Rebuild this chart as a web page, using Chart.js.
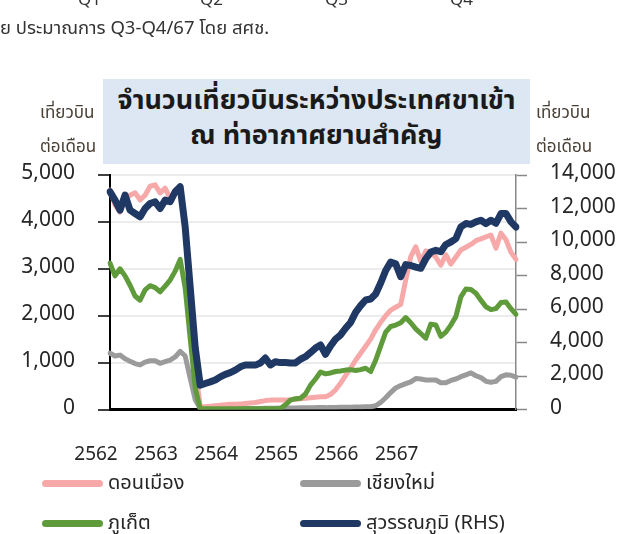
<!DOCTYPE html>
<html>
<head>
<meta charset="utf-8">
<script src="https://cdn.jsdelivr.net/npm/chart.js@4.4.1/dist/chart.umd.min.js"></script>
<style>
  body { margin: 0; background: #fff; font-family: Tahoma, 'Noto Sans Thai', 'Noto Sans', sans-serif; color: #262626; }
  #wrap { position: relative; width: 641px; height: 534px; overflow: hidden; }
  #chart { position: absolute; left: 0; top: 0; }
  .abs { position: absolute; white-space: nowrap; }
  #titleBox { left: 103px; top: 79px; width: 427px; height: 85px; background: #dce7f3; text-align: center;
    font-weight: bold; font-size: 27px; line-height: 35px; padding-top: 4px; box-sizing: border-box; color: #1a1a1a; }
  .ytitle { font-size: 17px; line-height: 34px; color: #4a4036; text-align: left; }
  .q { top: -13px; font-size: 17px; color: #333; }
  #note { left: 0; top: 14px; font-size: 18.5px; color: #333; }
  #legend .item { position: absolute; height: 30px; font-size: 20px; line-height: 30px; white-space: nowrap; }
  #legend .swatch { position: absolute; left: 0; top: 12px; width: 61px; height: 7px; border-radius: 4px; }
  #legend .lbl { position: absolute; left: 66px; top: 0; white-space: nowrap; }
</style>
</head>
<body>
<div id="wrap">
  <canvas id="chart" width="641" height="534"></canvas>
  <div class="abs q" style="left:78px">Q1</div>
  <div class="abs q" style="left:200px">Q2</div>
  <div class="abs q" style="left:325px">Q3</div>
  <div class="abs q" style="left:450px">Q4</div>
  <div class="abs" id="note">ย ประมาณการ Q3-Q4/67 โดย สศช.</div>
  <div class="abs" id="titleBox">จำนวนเที่ยวบินระหว่างประเทศขาเข้า<br>ณ ท่าอากาศยานสำคัญ</div>
  <div class="abs ytitle" style="left:40px; top:96px">เที่ยวบิน<br>ต่อเดือน</div>
  <div class="abs ytitle" style="left:536px; top:96px">เที่ยวบิน<br>ต่อเดือน</div>
  <div id="legend"></div>
</div>
<script>
// ปี (พ.ศ.) ที่แสดงบนแกน X
const years = ['2562', '2563', '2564', '2565', '2566', '2567'];
const monthCount = 82; // ม.ค. 2562 - ต.ค. 2567

// เที่ยวบินต่อเดือน (แกนซ้าย)
const donMueang = [4680,4360,4210,4470,4570,4620,4470,4570,4760,4790,
  4620,4720,4500,4620,4740,3900,2400,900,60,60,
  70,80,90,100,110,110,120,130,140,150,
  170,190,200,200,200,200,210,220,230,240,
  250,260,270,270,320,420,560,720,880,1050,
  1200,1350,1500,1700,1860,2000,2120,2180,2240,2760,
  3260,3470,3150,3380,3350,3250,3080,3300,3100,3250,
  3400,3460,3520,3600,3640,3680,3720,3440,3760,3620,
  3350,3200];
const chiangMai = [1200,1140,1160,1080,1030,980,950,1010,1040,1040,
  985,1020,1055,1120,1240,1140,670,210,20,20,
  20,20,20,20,20,20,20,20,20,20,
  20,25,25,25,30,30,30,30,35,35,
  35,40,40,40,45,45,50,50,50,55,
  55,60,60,80,150,250,360,460,510,550,
  590,660,650,630,630,630,570,570,620,650,
  700,740,780,720,680,600,580,600,700,740,
  730,690];
const phuket = [3120,2850,3000,2850,2650,2420,2330,2550,2640,2600,
  2510,2630,2760,2950,3200,2590,1520,460,20,15,
  15,15,15,15,15,15,15,15,15,15,
  15,15,15,15,15,100,200,230,240,330,
  520,650,800,760,780,810,820,840,850,830,
  850,880,810,1050,1350,1650,1770,1800,1850,1960,
  1850,1720,1620,1520,1820,1800,1560,1650,1800,1980,
  2400,2570,2560,2480,2330,2190,2130,2150,2280,2290,
  2150,2030];
// สุวรรณภูมิ (แกนขวา)
const suvarnabhumi = [13000,12500,11900,12800,11900,11700,11500,12000,12300,12400,
  12000,12500,12400,13000,13300,10900,7300,3700,1450,1550,
  1650,1760,1950,2100,2200,2350,2550,2660,2650,2650,
  2780,3070,2660,2850,2800,2800,2780,2780,3000,3150,
  3400,3670,3850,3300,3800,4200,4450,4850,5200,5800,
  6200,6540,6600,6900,7550,8300,8800,8700,7930,8650,
  8600,8500,8430,9000,9400,9500,9420,9850,10000,10200,
  10900,11100,11050,11200,11300,11100,11300,11120,11700,11700,
  11200,10900];

const labels = [];
for (let i = 0; i < monthCount; i++) {
  labels.push((i % 12 + 1) + '/' + years[Math.floor(i / 12)]);
}

const series = [
  { name: 'ดอนเมือง', data: donMueang, color: '#f7a9a9', width: 5, axis: 'yL', order: 2, lx: 42, ly: 468 },
  { name: 'เชียงใหม่', data: chiangMai, color: '#9b9b9b', width: 5, axis: 'yL', order: 3, lx: 300, ly: 468 },
  { name: 'ภูเก็ต', data: phuket, color: '#5f9b3b', width: 5, axis: 'yL', order: 1, lx: 42, ly: 508 },
  { name: 'สุวรรณภูมิ (RHS)', data: suvarnabhumi, color: '#1f3864', width: 7, axis: 'yR', order: 0, lx: 300, ly: 508 }
];

// legend แบบ 2 คอลัมน์
const legend = document.getElementById('legend');
series.forEach(s => {
  const item = document.createElement('div');
  item.className = 'item';
  item.style.left = s.lx + 'px';
  item.style.top = s.ly + 'px';
  item.innerHTML = '<span class="swatch" style="background:' + s.color + '"></span><span class="lbl">' + s.name + '</span>';
  legend.appendChild(item);
});

const tickFont = { family: "Tahoma, 'Noto Sans Thai', 'Noto Sans', sans-serif", size: 20 };

new Chart(document.getElementById('chart'), {
  type: 'line',
  data: {
    labels: labels,
    datasets: series.map(s => ({
      label: s.name,
      data: s.data,
      yAxisID: s.axis,
      borderColor: s.color,
      borderWidth: s.width,
      pointRadius: 0,
      tension: 0,
      fill: false,
      order: s.order,
      borderJoinStyle: 'round',
      borderCapStyle: 'round'
    }))
  },
  options: {
    responsive: false,
    animation: false,
    layout: { padding: { top: 175, left: 0, right: 0, bottom: 0 } },
    plugins: { legend: { display: false }, tooltip: { enabled: false } },
    scales: {
      x: {
        grid: { display: false, drawTicks: false },
        border: { color: '#000', width: 3 },
        ticks: {
          autoSkip: false, maxRotation: 0, minRotation: 0,
          color: '#262626', font: { ...tickFont, size: 19 }, padding: 35, labelOffset: -14,
          callback: (v, i) => (i % 12 === 0 ? years[i / 12] : '')
        },
        afterFit: scale => { scale.height = 124.5; }
      },
      yL: {
        position: 'left', min: 0, max: 5000,
        grid: { color: '#ececec', lineWidth: 2, tickColor: '#000', tickWidth: 1.5, tickLength: 12 },
        border: { color: '#000', width: 2 },
        ticks: { stepSize: 1000, color: '#262626', font: { ...tickFont, size: 21 }, padding: 23,
          callback: v => v.toLocaleString('en-US') },
        afterFit: scale => { scale.width = 110; }
      },
      yR: {
        position: 'right', min: 0, max: 14000,
        grid: { drawOnChartArea: false, tickColor: '#888', tickWidth: 1.5, tickLength: 11 },
        border: { color: '#888', width: 1.5 },
        ticks: { stepSize: 2000, color: '#262626', font: { ...tickFont, size: 21 }, padding: 23,
          callback: v => v.toLocaleString('en-US') },
        afterFit: scale => { scale.width = 125; }
      }
    }
  }
});
</script>
</body>
</html>
